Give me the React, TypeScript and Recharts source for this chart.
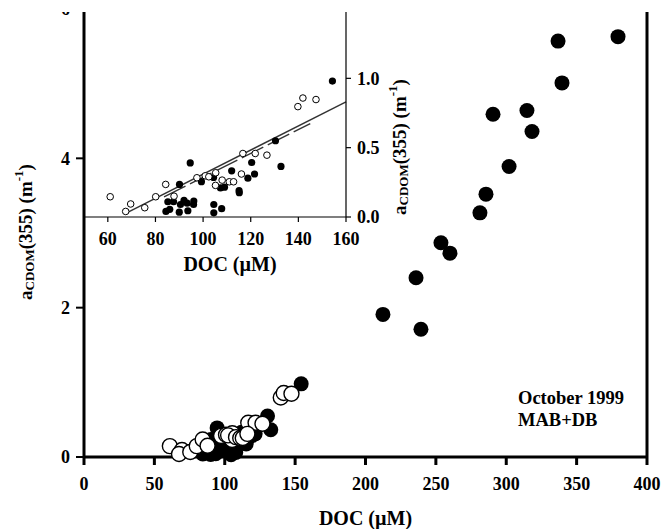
import React from 'react';
import { ScatterChart, Scatter, XAxis, YAxis, ReferenceLine, Customized } from 'recharts';

const FONT = '"Liberation Serif", "Times New Roman", serif';

// Tick values
const mainXTicks = [0, 50, 100, 150, 200, 250, 300, 350, 400];
const mainYTicks = [0, 2, 4, 6];
const insetXTicks = [60, 80, 100, 120, 140, 160];
const insetYTicks = [0, 0.5, 1.0];

// Filled circles, DOC < 160 µM (shown in inset and main)
const filledLow = [
  { x: 154.3, y: 0.98 }, { x: 130.4, y: 0.55 }, { x: 132.7, y: 0.365 }, { x: 94.6, y: 0.39 },
  { x: 90.1, y: 0.235 }, { x: 112, y: 0.333 }, { x: 120.4, y: 0.393 }, { x: 121.6, y: 0.31 },
  { x: 118.8, y: 0.28 }, { x: 115.1, y: 0.19 }, { x: 115.2, y: 0.175 }, { x: 109, y: 0.215 },
  { x: 107.3, y: 0.21 }, { x: 104.4, y: 0.285 }, { x: 99.3, y: 0.255 }, { x: 96.1, y: 0.115 },
  { x: 96, y: 0.09 }, { x: 93.3, y: 0.1 }, { x: 92, y: 0.12 }, { x: 90.5, y: 0.09 },
  { x: 87.6, y: 0.11 }, { x: 85.2, y: 0.11 }, { x: 86, y: 0.055 }, { x: 84.4, y: 0.04 },
  { x: 90, y: 0.035 }, { x: 93.6, y: 0.045 }, { x: 104.5, y: 0.09 }, { x: 104.5, y: 0.03 },
  { x: 107.8, y: 0.06 },
];

// Open circles
const openPts = [
  { x: 61, y: 0.146 }, { x: 69.6, y: 0.094 }, { x: 67.5, y: 0.04 }, { x: 75.5, y: 0.067 },
  { x: 80.1, y: 0.146 }, { x: 84.3, y: 0.235 }, { x: 87.8, y: 0.15 }, { x: 97.4, y: 0.283 },
  { x: 100.9, y: 0.297 }, { x: 105.3, y: 0.319 }, { x: 105.2, y: 0.228 }, { x: 102.4, y: 0.29 },
  { x: 108, y: 0.266 }, { x: 111, y: 0.254 }, { x: 112.8, y: 0.254 }, { x: 116.7, y: 0.458 },
  { x: 121.9, y: 0.458 }, { x: 126.8, y: 0.446 }, { x: 116.1, y: 0.31 }, { x: 139.8, y: 0.796 },
  { x: 141.9, y: 0.858 }, { x: 147.4, y: 0.847 },
];

// Filled circles, high DOC (main panel only)
const filledHigh = [
  { x: 379.4, y: 5.63 }, { x: 336.8, y: 5.57 }, { x: 339.6, y: 5.01 }, { x: 290.6, y: 4.59 },
  { x: 314.7, y: 4.64 }, { x: 318.3, y: 4.36 }, { x: 302, y: 3.89 }, { x: 285.6, y: 3.52 },
  { x: 281.3, y: 3.27 }, { x: 253.6, y: 2.87 }, { x: 260, y: 2.73 }, { x: 235.9, y: 2.4 },
  { x: 212.4, y: 1.91 }, { x: 239.4, y: 1.71 },
];

// Regression lines in inset
const fitLineA = [{ x: 67.5, y: 0.027 }, { x: 160, y: 0.83 }];
const fitLineB = [{ x: 83.6, y: 0.146 }, { x: 145, y: 0.674 }];

const filledAll = [...filledLow, ...filledHigh];

const bigFilled = (p: any) => <circle cx={p.cx} cy={p.cy} r={7.5} fill="#000" />;
const bigOpen = (p: any) => <circle cx={p.cx} cy={p.cy} r={7.5} fill="#fff" stroke="#000" strokeWidth={1.4} />;
const smallFilled = (p: any) => <circle cx={p.cx} cy={p.cy} r={3.6} fill="#000" />;
const smallOpen = (p: any) => <circle cx={p.cx} cy={p.cy} r={3.3} fill="#fff" stroke="#000" strokeWidth={1} />;

const tickStyle = { fill: '#000', fontSize: 18, fontWeight: 'bold', fontFamily: FONT };

const ACdomLabel = ({ x, y, size }: { x: number; y: number; size: number }) => {
  const sub = Math.round(size * 0.68);
  return (
    <text
      x={x}
      y={y}
      transform={`rotate(-90, ${x}, ${y})`}
      textAnchor="middle"
      fill="#000"
      fontFamily={FONT}
      fontWeight="bold"
      fontSize={size}
      dominantBaseline="central"
    >
      a<tspan fontSize={sub} dy={4}>CDOM</tspan>
      <tspan dy={-4}>(355) (m</tspan>
      <tspan fontSize={sub} dy={-7}>-1</tspan>
      <tspan dy={7}>)</tspan>
    </text>
  );
};

const Annotation = () => (
  <g fontFamily={FONT} fontWeight="bold" fontSize={18.5} fill="#000">
    <text x={518} y={404}>October 1999</text>
    <text x={518} y={426}>MAB+DB</text>
  </g>
);

export default function App() {
  return (
    <div style={{ position: 'absolute', left: 0, top: 0, width: 662, height: 529, background: '#fff' }}>
      <div style={{ position: 'absolute', left: 0, top: 0 }}>
        <ScatterChart width={662} height={529} margin={{ top: 9, right: 15, bottom: 0, left: 0 }}>
          <XAxis
            type="number"
            dataKey="x"
            domain={[0, 400]}
            ticks={mainXTicks}
            interval={0}
            height={72}
            axisLine={{ stroke: '#000', strokeWidth: 3 }}
            tickLine={{ stroke: '#000', strokeWidth: 3 }}
            tickSize={8}
            tickMargin={12}
            tick={tickStyle}
            label={{
              content: (props: any) => {
                const vb = props.viewBox;
                return (
                  <text x={vb.x + vb.width / 2} y={vb.y + 61} textAnchor="middle" dominantBaseline="central"
                    fontFamily={FONT} fontWeight="bold" fontSize={20} fill="#000">DOC (µM)</text>
                );
              },
            }}
          />
          <YAxis
            type="number"
            dataKey="y"
            domain={[0, 6]}
            ticks={mainYTicks}
            interval={0}
            width={84}
            axisLine={{ stroke: '#000', strokeWidth: 3 }}
            tickLine={{ stroke: '#000', strokeWidth: 2 }}
            tickSize={8}
            tickMargin={6}
            tick={tickStyle}
            label={{
              content: (props: any) => {
                const vb = props.viewBox;
                return <ACdomLabel x={vb.x + 25} y={232} size={19} />;
              },
            }}
          />
          <ReferenceLine x={400} stroke="#000" strokeWidth={3} />
          <Scatter data={filledAll} shape={bigFilled} isAnimationActive={false} />
          <Scatter data={openPts} shape={bigOpen} isAnimationActive={false} />
          <Customized component={Annotation} />
        </ScatterChart>
      </div>
      <div style={{ position: 'absolute', left: 0, top: 0 }}>
        <ScatterChart width={420} height={280} margin={{ top: 9, right: 0, bottom: 0, left: 84 }}>
          <XAxis
            type="number"
            dataKey="x"
            domain={[50, 160]}
            ticks={insetXTicks}
            interval={0}
            height={63}
            axisLine={{ stroke: '#000', strokeWidth: 1.2 }}
            tickLine={{ stroke: '#000', strokeWidth: 1.2 }}
            tickSize={5}
            tickMargin={10}
            tick={tickStyle}
            label={{
              content: (props: any) => {
                const vb = props.viewBox;
                return (
                  <text x={vb.x + 146} y={vb.y + 47} textAnchor="middle" dominantBaseline="central"
                    fontFamily={FONT} fontWeight="bold" fontSize={20} fill="#000">DOC (µM)</text>
                );
              },
            }}
          />
          <YAxis
            type="number"
            dataKey="y"
            orientation="right"
            domain={[0, 1.5]}
            ticks={insetYTicks}
            interval={0}
            width={74}
            axisLine={{ stroke: '#000', strokeWidth: 1.2 }}
            tickLine={{ stroke: '#000', strokeWidth: 1.2 }}
            tickSize={5}
            tickMargin={6}
            tick={tickStyle}
            tickFormatter={(v: number) => v.toFixed(1)}
            label={{
              content: (props: any) => {
                const vb = props.viewBox;
                return <ACdomLabel x={vb.x + 53} y={147} size={19} />;
              },
            }}
          />
          <ReferenceLine segment={fitLineA} stroke="#333" strokeWidth={1.4} ifOverflow="visible" />
          <ReferenceLine segment={fitLineB} stroke="#333" strokeWidth={1.4} strokeDasharray="24 5" ifOverflow="visible" />
          <Scatter data={filledLow} shape={smallFilled} isAnimationActive={false} />
          <Scatter data={openPts} shape={smallOpen} isAnimationActive={false} />
        </ScatterChart>
      </div>
      <div style={{ position: 'absolute', left: 0, top: 0, width: 662, height: 12, background: '#fff' }} />
    </div>
  );
}
